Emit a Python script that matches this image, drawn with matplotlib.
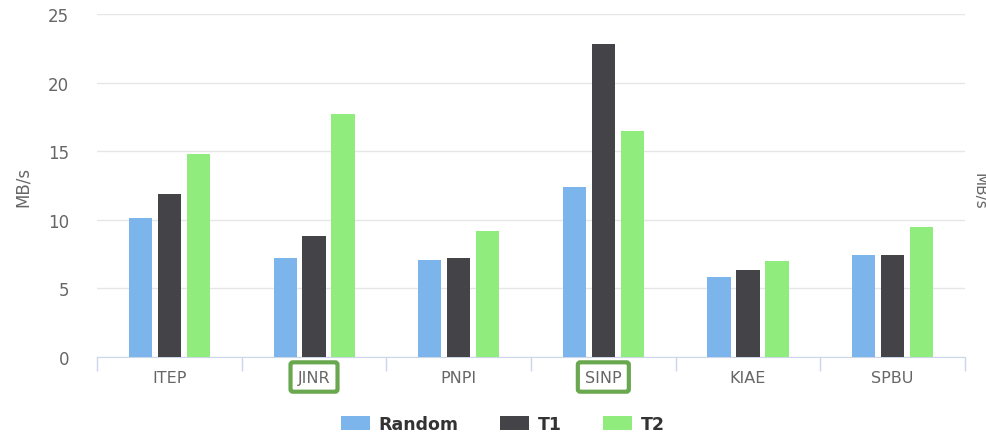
import matplotlib.pyplot as plt
import numpy as np

# site names and throughput per test (MB/s)
sites = ["ITEP", "JINR", "PNPI", "SINP", "KIAE", "SPBU"]
random_vals = [10.1, 7.2, 7.1, 12.4, 5.8, 7.4]
t1_vals = [11.9, 8.8, 7.2, 22.8, 6.35, 7.4]
t2_vals = [14.8, 17.7, 9.2, 16.5, 7.0, 9.5]
highlighted = ["JINR", "SINP"]

series = [("Random", random_vals, "#7cb5ec"),
          ("T1", t1_vals, "#434348"),
          ("T2", t2_vals, "#90ed7d")]

fig = plt.figure(figsize=(9.86, 4.35), dpi=100)
ax = fig.add_axes([0.0984, 0.177, 0.8803, 0.7885])

x = np.arange(len(sites))
w = 0.16
offsets = [-0.2, 0.0, 0.2]
for (name, vals, col), off in zip(series, offsets):
    ax.bar(x + off, vals, width=w, color=col, label=name, zorder=3)

ax.set_xlim(-0.5, len(sites) - 0.5)
ax.set_ylim(0, 25)
ax.set_yticks([0, 5, 10, 15, 20, 25])
ax.tick_params(axis="y", length=0, pad=20, labelsize=12, labelcolor="#666666")
ax.grid(axis="y", color="#e6e6e6", linewidth=1, zorder=0)
ax.set_ylabel("MB/s", color="#666666", fontsize=12, labelpad=12)

# boundary ticks below the axis line, labels in the middle
ax.set_xticks(np.arange(-0.5, len(sites)), minor=False)
ax.set_xticklabels([])
ax.tick_params(axis="x", which="major", length=10, color="#ccd6eb", width=1)
ax.set_xticks(x, minor=True)
ax.set_xticklabels(sites, minor=True)
ax.tick_params(axis="x", which="minor", length=0, pad=9, labelsize=11.5, labelcolor="#666666")
for lbl in ax.get_xticklabels(minor=True):
    if lbl.get_text() in highlighted:
        lbl.set_bbox(dict(boxstyle="round,pad=0.45,rounding_size=0.15", facecolor="white",
                          edgecolor="#6aa84f", linewidth=3))

for s in ["top", "right", "left"]:
    ax.spines[s].set_visible(False)
ax.spines["bottom"].set_color("#ccd6eb")

# cut-off title of a second axis at the right edge
fig.text(0.993, 0.56, "MB/s", rotation=270, color="#666666", fontsize=11,
         ha="center", va="center")

leg = fig.legend(loc="center", ncol=3, frameon=False, bbox_to_anchor=(0.51, 0.023),
                 prop={"size": 12.5, "weight": "bold"}, handlelength=1.67, handleheight=0.86,
                 columnspacing=2.4, handletextpad=0.5)
for t in leg.get_texts():
    t.set_color("#333333")

fig.savefig("out.png", dpi=100)
